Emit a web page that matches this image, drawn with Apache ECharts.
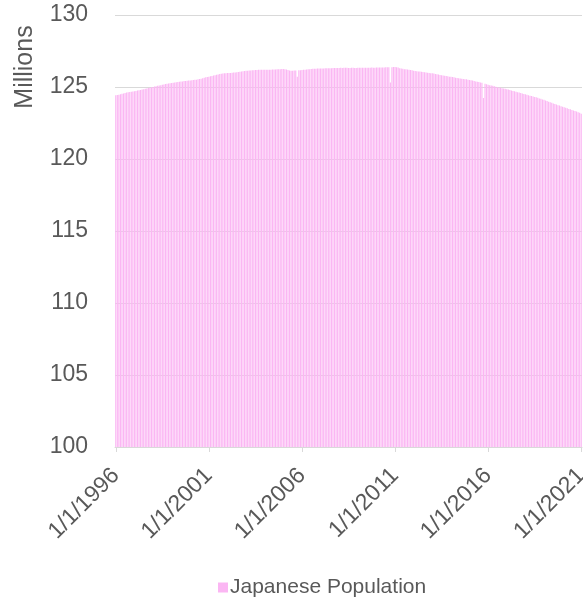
<!DOCTYPE html>
<html><head><meta charset="utf-8">
<script src="https://cdn.jsdelivr.net/npm/echarts@6/dist/echarts.min.js"></script>
<style>html,body{margin:0;padding:0;background:#fff}#c{width:583px;height:602px}</style>
</head><body><div id="c"></div>
<script>
// Monthly Japanese population (millions), Jan..Dec of each year
const pop1996 = [124.42,124.44,124.46,124.50,124.53,124.55,124.58,124.61,124.63,124.65,124.67,124.69];
const pop1997 = [124.71,124.73,124.75,124.78,124.80,124.82,124.85,124.87,124.90,124.93,124.95,124.98];
const pop1998 = [125.00,125.03,125.05,125.08,125.10,125.12,125.15,125.17,125.20,125.22,125.24,125.26];
const pop1999 = [125.28,125.30,125.31,125.33,125.35,125.36,125.38,125.39,125.41,125.42,125.44,125.45];
const pop2000 = [125.46,125.47,125.49,125.50,125.51,125.53,125.55,125.57,125.60,125.64,125.67,125.69];
const pop2001 = [125.72,125.74,125.77,125.80,125.82,125.85,125.87,125.90,125.92,125.94,125.95,125.96];
const pop2002 = [125.97,125.98,125.98,125.99,126.00,126.01,126.02,126.04,126.06,126.08,126.10,126.11];
const pop2003 = [126.12,126.13,126.14,126.15,126.16,126.17,126.18,126.18,126.19,126.19,126.20,126.20];
const pop2004 = [126.20,126.20,126.19,126.19,126.20,126.21,126.22,126.22,126.23,126.24,126.24,126.25];
const pop2005 = [126.25,126.24,126.22,126.18,126.14,126.12,126.13,126.15,126.15,125.72,126.16,126.17];
const pop2006 = [126.18,126.19,126.20,126.21,126.23,126.24,126.25,126.26,126.27,126.27,126.28,126.28];
const pop2007 = [126.28,126.29,126.29,126.30,126.30,126.31,126.31,126.31,126.32,126.32,126.32,126.32];
const pop2008 = [126.32,126.33,126.32,126.33,126.33,126.33,126.32,126.32,126.33,126.33,126.32,126.32];
const pop2009 = [126.33,126.33,126.33,126.34,126.34,126.34,126.34,126.34,126.34,126.35,126.34,126.34];
const pop2010 = [126.35,126.35,126.35,126.36,126.36,126.36,126.37,126.37,126.38,125.32,126.38,126.39];
const pop2011 = [126.39,126.38,126.36,126.31,126.28,126.26,126.24,126.23,126.22,126.20,126.18,126.16];
const pop2012 = [126.13,126.11,126.10,126.08,126.07,126.06,126.05,126.03,126.01,125.99,125.97,125.96];
const pop2013 = [125.95,125.93,125.91,125.88,125.86,125.84,125.82,125.80,125.78,125.76,125.74,125.72];
const pop2014 = [125.71,125.69,125.67,125.65,125.63,125.61,125.59,125.57,125.56,125.54,125.53,125.51];
const pop2015 = [125.49,125.47,125.45,125.42,125.39,125.37,125.34,125.32,125.30,124.24,125.22,125.19];
const pop2016 = [125.15,125.13,125.11,125.08,125.05,125.02,124.99,124.96,124.94,124.92,124.90,124.88];
const pop2017 = [124.85,124.82,124.79,124.76,124.73,124.70,124.67,124.64,124.61,124.58,124.55,124.52];
const pop2018 = [124.49,124.46,124.43,124.40,124.37,124.34,124.31,124.28,124.25,124.21,124.18,124.14];
const pop2019 = [124.11,124.07,124.03,123.98,123.94,123.90,123.86,123.82,123.78,123.74,123.71,123.67];
const pop2020 = [123.63,123.60,123.56,123.52,123.48,123.45,123.41,123.37,123.33,123.29,123.25,123.21];
const pop2021 = [123.15];

const startYear = 1996;
const xTickLabels = ['1/1/1996','1/1/2001','1/1/2006','1/1/2011','1/1/2016','1/1/2021'];
const yTicks = [100,105,110,115,120,125,130];
const seriesName = 'Japanese Population';
const axisTitle = 'Millions';

const monthly = [].concat(pop1996,pop1997,pop1998,pop1999,pop2000,pop2001,pop2002,pop2003,
  pop2004,pop2005,pop2006,pop2007,pop2008,pop2009,pop2010,pop2011,pop2012,pop2013,pop2014,
  pop2015,pop2016,pop2017,pop2018,pop2019,pop2020,pop2021);
const categories = monthly.map((v,i)=> (i%12+1)+'/1/'+(startYear+Math.floor(i/12)));

const FONT = '"Liberation Sans", Arial, sans-serif';
const chart = echarts.init(document.getElementById('c'), null, {renderer:'canvas'});
const showTick = (i, v) => xTickLabels.indexOf(v) >= 0;
chart.setOption({
  animation:false,
  textStyle:{fontFamily:FONT},
  grid:{left:115, right:1, top:15, bottom:155, containLabel:false, outerBoundsMode:'none'},
  xAxis:{
    type:'category', data:categories, boundaryGap:true,
    axisLine:{show:true, lineStyle:{color:'#d9d9d9', width:1}},
    axisTick:{show:true, alignWithLabel:true, interval:showTick, length:5, lineStyle:{color:'#d9d9d9'}},
    axisLabel:{interval:showTick, rotate:45, margin:25, fontSize:23, color:'#595959', fontFamily:FONT, hideOverlap:false},
    splitLine:{show:false}
  },
  yAxis:{
    type:'value', min:yTicks[0], max:yTicks[yTicks.length-1], interval:5,
    axisLine:{show:false}, axisTick:{show:false},
    axisLabel:{fontSize:23, color:'#595959', margin:27, fontFamily:FONT},
    splitLine:{lineStyle:{color:'#d9d9d9', width:1}}
  },
  legend:{
    data:[seriesName], top:572, left:213, icon:'rect', itemWidth:10, itemHeight:10, itemGap:5,
    textStyle:{fontSize:21, color:'#595959', fontFamily:FONT, padding:[0,0,0,-3]}
  },
  graphic:[{type:'text', x:25, y:67, rotation:Math.PI/2,
    style:{text:axisTitle, fontSize:25, fill:'#595959', fontFamily:FONT, textAlign:'center', textVerticalAlign:'middle'}}],
  series:[{
    name:seriesName, type:'bar', data:monthly, barCategoryGap:'25%',
    itemStyle:{color:'#fbb6f3'}
  }]
});
</script></body></html>
